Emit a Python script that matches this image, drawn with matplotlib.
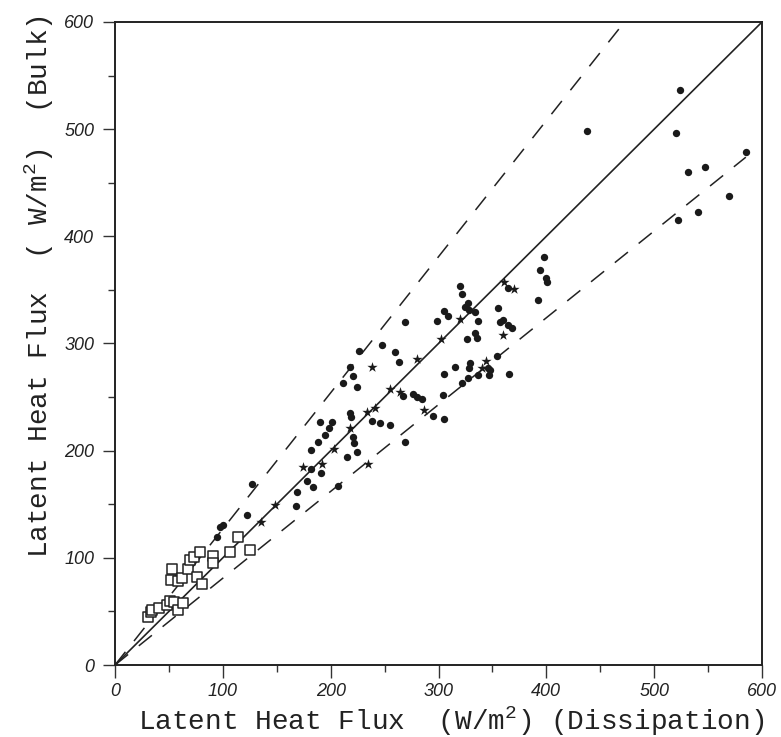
import matplotlib.pyplot as plt
from matplotlib.ticker import MultipleLocator
import numpy as np

plt.rcParams['mathtext.default'] = 'regular'

# filled dots
dot_x = [226, 248, 260, 263, 218, 221, 211, 224, 305, 304, 305, 295, 285, 276, 280, 267,
         255, 246, 238, 269, 218, 219, 201, 190, 198, 195, 188, 182, 221, 222, 215, 224,
         207, 191, 184, 178, 182, 169, 168, 127, 122, 100, 97, 95,
         398, 394, 400, 401, 392, 364, 355, 357, 360, 364, 368, 320, 322, 325, 328, 334,
         327, 337, 305, 309, 299, 269, 334, 336, 326, 354, 346, 348, 337, 347, 365, 329,
         328, 327, 322, 315, 524, 438, 520, 585, 547, 531, 569, 541, 522]
dot_y = [293, 299, 292, 283, 278, 270, 263, 259, 272, 252, 230, 232, 248, 253, 250, 251,
         224, 226, 228, 208, 235, 231, 227, 227, 221, 215, 208, 201, 213, 207, 194, 199,
         167, 179, 166, 172, 183, 161, 148, 169, 140, 131, 129, 119,
         381, 369, 361, 357, 341, 352, 333, 320, 322, 317, 314, 354, 346, 334, 331, 329,
         338, 321, 330, 326, 321, 320, 310, 305, 304, 288, 277, 275, 271, 271, 272, 282,
         277, 268, 263, 278, 537, 498, 496, 479, 465, 460, 438, 423, 415]

# asterisks
star_x = [238, 280, 302, 287, 264, 255, 241, 234, 218, 203, 235, 192, 174, 148, 135,
          361, 370, 320, 360, 344, 340]
star_y = [278, 286, 304, 238, 255, 258, 240, 236, 221, 202, 188, 188, 185, 149, 133,
          357, 351, 323, 308, 284, 277]

# open squares
sq_x = [31, 33, 34, 41, 48, 51, 55, 58, 63, 53, 52, 58, 62, 68, 76, 81, 70, 73, 79,
        91, 91, 107, 114, 125]
sq_y = [45, 49, 51, 53, 56, 60, 59, 51, 58, 90, 79, 78, 81, 90, 82, 76, 98, 101, 105,
        102, 95, 105, 119, 107]

# reference lines
upper_slope = 1.27
lower_slope = 0.81
lower_end = 585

fig = plt.figure(figsize=(7.81, 7.37), dpi=100)
ax = fig.add_axes([115 / 781, 72 / 737, 647 / 781, 643 / 737])

ax.plot([0, 600], [0, 600], color='#222222', lw=1.2, zorder=2)
ax.plot([0, 600 / upper_slope], [0, 600], color='#222222', lw=1.1,
        dashes=(11, 9), zorder=2)
ax.plot([0, lower_end], [0, lower_end * lower_slope], color='#222222', lw=1.1,
        dashes=(11, 9), zorder=2)

ax.scatter(dot_x, dot_y, s=28, marker='o', color='#1a1a1a', linewidths=0, zorder=3)
ax.scatter(star_x, star_y, s=60, marker='*', color='#1a1a1a', linewidths=0, zorder=3)
ax.scatter(sq_x, sq_y, s=55, marker='s', facecolors='white', edgecolors='#222222',
           linewidths=1.1, zorder=3)

ax.set_xlim(0, 600)
ax.set_ylim(0, 600)
ax.xaxis.set_major_locator(MultipleLocator(100))
ax.yaxis.set_major_locator(MultipleLocator(100))
ax.xaxis.set_minor_locator(MultipleLocator(50))
ax.yaxis.set_minor_locator(MultipleLocator(50))
ax.tick_params(which='major', direction='out', length=9, width=1.0, color='#333333')
ax.tick_params(which='minor', direction='out', length=5, width=1.0, color='#333333')
ax.tick_params(axis='x', pad=4)
ax.tick_params(axis='y', pad=6)
for lab in ax.get_xticklabels() + ax.get_yticklabels():
    lab.set_fontfamily('Liberation Sans')
    lab.set_fontstyle('italic')
    lab.set_fontsize(13)
    lab.set_color('#222222')
for sp in ax.spines.values():
    sp.set_linewidth(1.4)
    sp.set_color('#222222')

ax.text(0.52, -0.1005, 'Latent Heat Flux  (W/m$^2$) (Dissipation)',
        transform=ax.transAxes, ha='center', va='baseline', fontsize=20,
        family='Liberation Mono', color='#222222')
ax.text(-0.117, 0.588, 'Latent Heat Flux  ( W/m$^2$)  (Bulk)',
        transform=ax.transAxes, ha='center', va='center', fontsize=20,
        family='Liberation Mono', rotation=90, color='#222222')

fig.savefig('out.png', dpi=100, facecolor='white')
